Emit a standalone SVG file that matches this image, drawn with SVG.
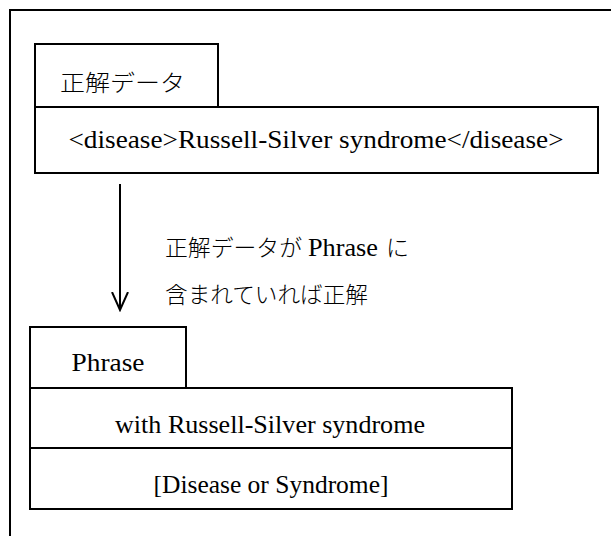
<svg xmlns="http://www.w3.org/2000/svg" width="611" height="536" viewBox="0 0 611 536">
<style>
.box{fill:#fff;stroke:#000;stroke-width:2}
.t{font-family:"Liberation Serif","Times New Roman","DejaVu Serif",serif;font-size:26px;fill:#000}
.j{font-family:"Noto Sans CJK JP",sans-serif;font-weight:300;font-size:23px;fill:#000}
.c{text-anchor:middle}
</style>
<defs>
<marker id="arr" markerWidth="20" markerHeight="20" refX="18" refY="10" orient="auto" markerUnits="userSpaceOnUse" viewBox="0 0 20 20">
<path d="M0 2 L18 10 L0 18" fill="none" stroke="#000" stroke-width="2"/>
</marker>
</defs>
<rect width="611" height="536" fill="#fff"/>
<path d="M10 536 V10 H611" fill="none" stroke="#000" stroke-width="2"/>
<g id="answer">
<rect class="box" x="35" y="44" width="183" height="63"/>
<text class="j" x="60" y="91" textLength="125" lengthAdjust="spacingAndGlyphs">正解データ</text>
<rect class="box" x="35" y="107" width="563" height="66"/>
<text class="t c" x="316" y="148" textLength="495" lengthAdjust="spacingAndGlyphs">&lt;disease&gt;Russell-Silver syndrome&lt;/disease&gt;</text>
</g>
<g id="connectors">
<line x1="120" y1="184" x2="120" y2="310" stroke="#000" stroke-width="2" marker-end="url(#arr)"/>
</g>
<g id="label">
<text class="j" x="165" y="256"><tspan textLength="137" lengthAdjust="spacingAndGlyphs">正解データが</tspan><tspan class="t" x="308" textLength="70" lengthAdjust="spacingAndGlyphs">Phrase</tspan><tspan x="386">に</tspan></text>
<text class="j" x="165" y="303" textLength="203" lengthAdjust="spacingAndGlyphs">含まれていれば正解</text>
</g>
<g id="phrase">
<rect class="box" x="30" y="327" width="156" height="61"/>
<text class="t c" x="108" y="371" textLength="73" lengthAdjust="spacingAndGlyphs">Phrase</text>
<rect class="box" x="30" y="388" width="482" height="60"/>
<text class="t c" x="270" y="433" textLength="310" lengthAdjust="spacingAndGlyphs">with Russell-Silver syndrome</text>
<rect class="box" x="30" y="448" width="482" height="61"/>
<text class="t c" x="271" y="493" textLength="235" lengthAdjust="spacingAndGlyphs">[Disease or Syndrome]</text>
</g>
</svg>
